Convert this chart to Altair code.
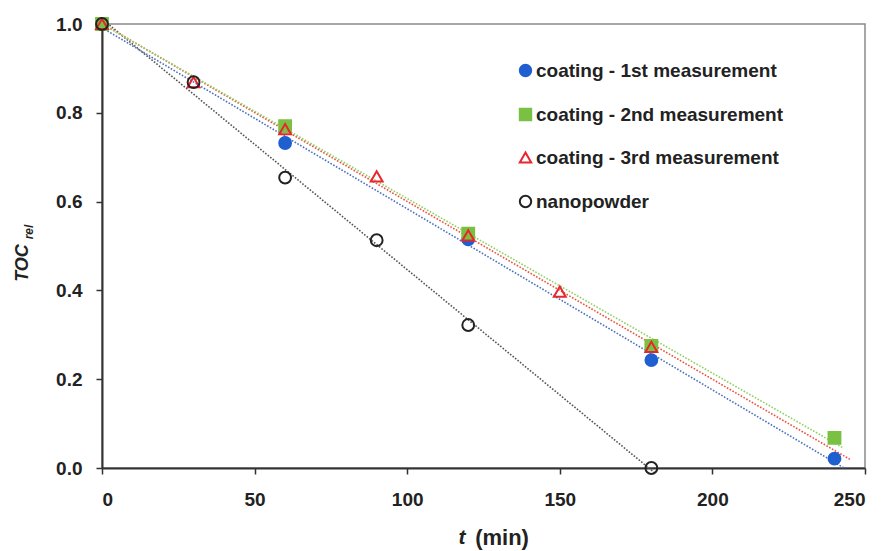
import altair as alt
import pandas as pd

series_names = [
    "coating - 1st measurement",
    "coating - 2nd measurement",
    "coating - 3rd measurement",
    "nanopowder",
]

t_first = [0, 60, 120, 180, 240]
v_first = [1.0, 0.732, 0.515, 0.243, 0.021]

t_second = [0, 60, 120, 180, 240]
v_second = [1.0, 0.770, 0.528, 0.275, 0.068]

t_third = [0, 30, 60, 90, 120, 150, 180]
v_third = [1.0, 0.869, 0.763, 0.657, 0.524, 0.397, 0.273]

t_nano = [0, 30, 60, 90, 120, 180]
v_nano = [1.0, 0.869, 0.654, 0.513, 0.322, 0.0]

x_ticks = [0, 50, 100, 150, 200, 250]
y_ticks = [0.0, 0.2, 0.4, 0.6, 0.8, 1.0]

marker_fill = ["#1f5fcf", "#7ac143", "transparent", "transparent"]
marker_stroke = ["#1f5fcf", "#7ac143", "#e8262b", "#222222"]
marker_shape = ["circle", "square", "triangle-up", "circle"]
line_colors = ["#4a72c0", "#8fd160", "#ee4f42", "#555555"]

rows = []
for name, ts, vs in [
    (series_names[0], t_first, v_first),
    (series_names[1], t_second, v_second),
    (series_names[2], t_third, v_third),
    (series_names[3], t_nano, v_nano),
]:
    for t, v in zip(ts, vs):
        rows.append({"series": name, "t": t, "v": v})
df = pd.DataFrame(rows)

FONT = "Liberation Sans"

x_enc = alt.X(
    "t:Q",
    scale=alt.Scale(domain=[0, 250], nice=False),
    axis=alt.Axis(values=x_ticks, title=None, format="d"),
)
y_enc = alt.Y(
    "v:Q",
    scale=alt.Scale(domain=[0, 1], nice=False),
    axis=alt.Axis(values=y_ticks, title=None, format=".1f"),
)

legend = alt.Legend(
    title=None,
    orient="none",
    legendX=414,
    legendY=37,
    symbolSize=130,
    symbolStrokeWidth=2,
    labelFontSize=19,
    labelFont=FONT,
    labelFontWeight="bold",
    labelColor="#222222",
    labelOffset=1,
    labelLimit=0,
    rowPadding=23,
    padding=0,
)


def reg_line(name, color, extent):
    return (
        alt.Chart(df)
        .transform_filter(alt.datum.series == name)
        .transform_regression("t", "v", extent=extent)
        .mark_line(color=color, strokeDash=[1.6, 1.6], strokeWidth=1.6)
        .encode(x=x_enc, y=y_enc)
    )


lines = [
    reg_line(series_names[3], line_colors[3], [0, 181]),
    reg_line(series_names[0], line_colors[0], [0, 243]),
    reg_line(series_names[2], line_colors[2], [0, 245]),
    reg_line(series_names[1], line_colors[1], [0, 243]),
]

points = (
    alt.Chart(df)
    .mark_point(size=140, strokeWidth=2, opacity=1)
    .encode(
        x=x_enc,
        y=y_enc,
        shape=alt.Shape(
            "series:N",
            scale=alt.Scale(domain=series_names, range=marker_shape),
            legend=legend,
        ),
        stroke=alt.Stroke(
            "series:N",
            scale=alt.Scale(domain=series_names, range=marker_stroke),
            legend=legend,
        ),
        fill=alt.Fill(
            "series:N",
            scale=alt.Scale(domain=series_names, range=marker_fill),
            legend=legend,
        ),
    )
)

one = pd.DataFrame({"a": [0]})


def label(text, x, y, size, style="normal", angle=0):
    return (
        alt.Chart(one)
        .mark_text(
            text=text,
            font=FONT,
            fontSize=size,
            fontWeight="bold",
            fontStyle=style,
            color="#222222",
            angle=angle,
            align="center",
            baseline="middle",
        )
        .encode(x=alt.value(x), y=alt.value(y))
    )


titles = [
    label("TOC", -79, 239, 18, "italic", 270),
    label("rel", -73, 208, 12, "italic", 270),
    label("t", 360, 514, 21, "italic"),
    label("(min)", 400, 514, 22),
]

chart = (
    alt.layer(*lines, points, *titles)
    .properties(
        width=763,
        height=444,
        autosize=alt.AutoSizeParams(type="none"),
        padding={"left": 94, "top": 16, "right": 15, "bottom": 83},
    )
    .configure_view(stroke="#8a8a8a", strokeWidth=1.5)
    .configure_axis(
        domainColor="#333333",
        domainWidth=2,
        tickColor="#333333",
        tickWidth=1.5,
        tickSize=6,
        grid=False,
        labelFont=FONT,
        labelFontSize=19,
        labelFontWeight="bold",
        labelColor="#222222",
    )
    .configure_axisY(labelPadding=14)
    .configure_axisX(labelPadding=16)
)

chart.save("out.html", embed_options={"renderer": "svg", "actions": False})
